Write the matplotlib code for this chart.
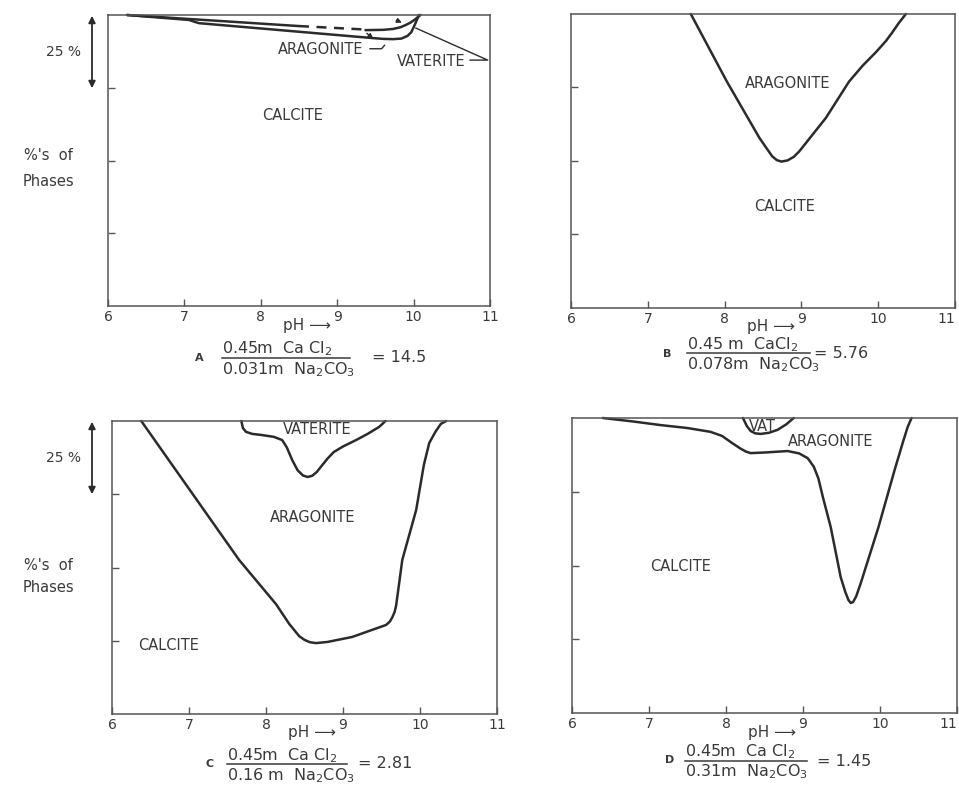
import matplotlib
matplotlib.use('Agg')
import matplotlib.pyplot as plt
from matplotlib.lines import Line2D
from matplotlib.patches import FancyArrowPatch

plt.rcParams['font.family'] = ['DejaVu Sans']
plt.rcParams['mathtext.default'] = 'regular'

W, H = 959, 791
INK = '#2b2b2b'
TXT = '#3a3a3a'

# ---- data (pH, cumulative % of phases) ----
ph_ticks = [6, 7, 8, 9, 10, 11]
pct_ticks = [25, 50, 75]

# A: calcite / aragonite boundary
a_cal_ph = [6.25, 7.06, 7.14, 7.19, 9.45, 9.6, 9.73, 9.84, 9.92, 9.97, 10.02, 10.07]
a_cal_pct = [100, 98.3, 97.6, 97.2, 92.1, 91.8, 91.7, 91.9, 92.8, 94.1, 96.9, 100]
# A: aragonite / vaterite boundary (solid, dashed, solid)
a_vat1_ph = [6.25, 8.5]
a_vat1_pct = [100, 96.2]
a_vat2_ph = [8.5, 9.37]
a_vat2_pct = [96.2, 95.0]
a_vat3_ph = [9.37, 9.6, 9.73, 9.83, 9.9, 9.96, 10.01, 10.09]
a_vat3_pct = [94.8, 94.9, 95.2, 95.8, 96.6, 97.4, 98.3, 100]

# B: calcite / aragonite boundary
b_cal_ph = [7.56, 8.03, 8.45, 8.55, 8.62, 8.68, 8.74, 8.82, 8.9, 8.97, 9.32, 9.62,
            9.8, 9.97, 10.1, 10.18, 10.27, 10.36]
b_cal_pct = [100, 77, 58, 54.2, 51.6, 50.3, 49.8, 50.2, 51.4, 53.2, 64.7, 77,
             82.5, 87, 90.8, 93.6, 97, 100]

# C: calcite / aragonite boundary
c_cal_ph = [6.38, 7.65, 8.13, 8.3, 8.43, 8.5, 8.57, 8.65, 8.8, 9.12, 9.56, 9.61,
            9.64, 9.67, 9.69, 9.77, 9.95, 10.05, 10.12, 10.2, 10.27, 10.34]
c_cal_pct = [100, 52.6, 37.5, 30.8, 26.6, 25.3, 24.5, 24.2, 24.6, 26.3, 30.4, 31.6,
             33.0, 34.8, 37, 52.6, 69.6, 85, 92.5, 96.3, 99, 100]
# C: aragonite / vaterite boundary
c_vat_ph = [7.68, 7.7, 7.74, 7.82, 7.95, 8.1, 8.21, 8.27, 8.34, 8.41, 8.48, 8.54,
            8.6, 8.66, 8.72, 8.8, 8.88, 9.0, 9.17, 9.32, 9.47, 9.52, 9.55]
c_vat_pct = [100, 97.6, 96.3, 95.6, 95.2, 94.6, 93.5, 91.0, 86.7, 83.2, 81.4, 80.9,
             81.3, 82.6, 84.6, 87.2, 89.4, 91.3, 93.5, 95.6, 98, 99.2, 100]

# D: calcite / aragonite boundary
d_cal_ph = [6.4, 6.8, 7.15, 7.5, 7.8, 7.95, 8.08, 8.19, 8.26, 8.32, 8.5, 8.8, 8.95,
            9.06, 9.14, 9.2, 9.26, 9.36, 9.49, 9.55, 9.59, 9.62, 9.65, 9.69, 9.75,
            9.98, 10.19, 10.3, 10.36, 10.41]
d_cal_pct = [100, 98.8, 97.6, 96.6, 95.3, 93.9, 91.5, 89.6, 88.6, 88.1, 88.3, 88.8, 88.0,
             86.4, 83.5, 79.5, 73, 63, 46, 41.0, 38.3, 37.3, 37.6, 39.5, 44,
             63, 82.4, 92, 97, 100]
# D: vaterite pocket
d_vat_ph = [8.22, 8.27, 8.32, 8.38, 8.45, 8.56, 8.67, 8.78, 8.88]
d_vat_pct = [100, 97.3, 95.6, 94.8, 94.6, 95.0, 96, 97.8, 100]

captions = {
    'A': ('0.45m  Ca Cl$_2$', '0.031m  Na$_2$CO$_3$', '= 14.5'),
    'B': ('0.45 m  CaCl$_2$', '0.078m  Na$_2$CO$_3$', '= 5.76'),
    'C': ('0.45m  Ca Cl$_2$', '0.16 m  Na$_2$CO$_3$', '= 2.81'),
    'D': ('0.45m  Ca Cl$_2$', '0.31m  Na$_2$CO$_3$', '= 1.45'),
}


def P(x, y):
    return x / W, 1 - y / H


def make_axes(fig, left, top, right, bottom, right_col=False):
    l, t = P(left, top)
    r, b = P(right, bottom)
    ax = fig.add_axes([l, b, r - l, t - b])
    ax.set_xlim(6, 11)
    ax.set_ylim(0, 100)
    ax.set_xticks(ph_ticks)
    ax.set_xticklabels([str(t) for t in ph_ticks])
    ax.set_yticks(pct_ticks)
    ax.set_yticklabels([])
    ax.tick_params(direction='in', length=5, width=1, colors='#555555',
                   labelcolor=TXT, labelsize=10, pad=3)
    if right_col:
        ax.get_xticklabels()[-1].set_horizontalalignment('right')
    for s in ax.spines.values():
        s.set_color('#555555')
        s.set_linewidth(1.1)
    ax.annotate('pH \u27f6', xy=(8.6, 0), xycoords=('data', 'axes fraction'),
                xytext=(0, -19), textcoords='offset pixels', ha='center', va='center',
                fontsize=11, color=TXT)
    return ax


def curve(ax, x, y, ls='-'):
    ax.plot(x, y, color=INK, lw=1.8, ls=ls, solid_capstyle='round',
            solid_joinstyle='round', clip_on=False)


def label(ax, x, y, s):
    ax.text(x, y, s, ha='center', va='center', fontsize=10.5, color=TXT)


def caption(fig, key, lx, ly, nx, ny, bx0, bx1, by, dy, vx):
    num, den, val = captions[key]
    fig.text(*P(lx, ly), key, ha='center', va='center', fontsize=8,
             fontweight='bold', color=TXT)
    fig.text(*P(nx, ny), num, ha='left', va='center', fontsize=11.5, color=TXT)
    fig.text(*P(nx, dy), den, ha='left', va='center', fontsize=11.5, color=TXT)
    x0, y0 = P(bx0, by)
    x1, _ = P(bx1, by)
    fig.add_artist(Line2D([x0, x1], [y0, y0], color=TXT, lw=1.1))
    fig.text(*P(vx, by), val, ha='left', va='center', fontsize=11.5, color=TXT)


def side_labels(fig, top, tick, mid, gap):
    fig.text(*P(63, (top + tick) / 2), '25 %', ha='center', va='center',
             fontsize=10, color=TXT)
    fig.add_artist(FancyArrowPatch(
        P(92, top - 2), P(92, tick + 2), transform=fig.transFigure,
        arrowstyle='<|-|>', mutation_scale=10, color=INK, lw=1.3))
    fig.text(*P(48, mid), "%'s  of", ha='center', va='center', fontsize=10.5, color=TXT)
    fig.text(*P(48, mid + gap), 'Phases', ha='center', va='center', fontsize=10.5, color=TXT)


fig = plt.figure(figsize=(W / 100, H / 100), dpi=100)
fig.patch.set_facecolor('white')

# ---- A ----
ax = make_axes(fig, 108, 15, 490, 306)
curve(ax, a_cal_ph, a_cal_pct)
curve(ax, a_vat1_ph, a_vat1_pct)
curve(ax, a_vat2_ph, a_vat2_pct, ls=(0, (4, 3)))
curve(ax, a_vat3_ph, a_vat3_pct)
label(ax, 8.42, 65.5, 'CALCITE')
label(ax, 8.78, 88, 'ARAGONITE')
label(ax, 10.23, 84.1, 'VATERITE')
ax.plot([9.43, 9.58, 9.62], [88.4, 88.4, 89.6], color=INK, lw=1.0, clip_on=False)
ax.plot([10.74, 10.97, 10.03], [84.5, 84.5, 95.5], color=INK, lw=1.0, clip_on=False)
ax.annotate('', xy=(9.5, 91.3), xytext=(9.36, 94.3),
            arrowprops=dict(arrowstyle='-|>', color=INK, lw=1.0, mutation_scale=7))
ax.annotate('', xy=(9.88, 97.0), xytext=(9.74, 98.6),
            arrowprops=dict(arrowstyle='-|>', color=INK, lw=1.0, mutation_scale=7))
caption(fig, 'A', 199, 358, 222, 349, 222, 350, 358, 370, 372)
side_labels(fig, 15, 89, 155, 26)

# ---- B ----
ax = make_axes(fig, 571, 14, 955, 308, right_col=True)
curve(ax, b_cal_ph, b_cal_pct)
label(ax, 8.82, 76.3, 'ARAGONITE')
label(ax, 8.78, 34.6, 'CALCITE')
caption(fig, 'B', 667, 354, 687, 345, 687, 810, 353, 365, 814)

# ---- C ----
ax = make_axes(fig, 112, 421, 497, 714)
curve(ax, c_cal_ph, c_cal_pct)
curve(ax, c_vat_ph, c_vat_pct)
label(ax, 8.67, 97, 'VATERITE')
label(ax, 8.6, 66.9, 'ARAGONITE')
label(ax, 6.74, 23.5, 'CALCITE')
caption(fig, 'C', 210, 764, 227, 756, 227, 347, 764, 776, 358)
side_labels(fig, 421, 495, 565, 23)

# ---- D ----
ax = make_axes(fig, 572, 418, 957, 713, right_col=True)
curve(ax, d_cal_ph, d_cal_pct)
curve(ax, d_vat_ph, d_vat_pct)
label(ax, 8.47, 97.2, 'VAT')
label(ax, 9.36, 92, 'ARAGONITE')
label(ax, 7.41, 49.5, 'CALCITE')
caption(fig, 'D', 670, 760, 685, 752, 685, 807, 761, 772, 817)

fig.savefig('out.png', dpi=100, facecolor='white')
